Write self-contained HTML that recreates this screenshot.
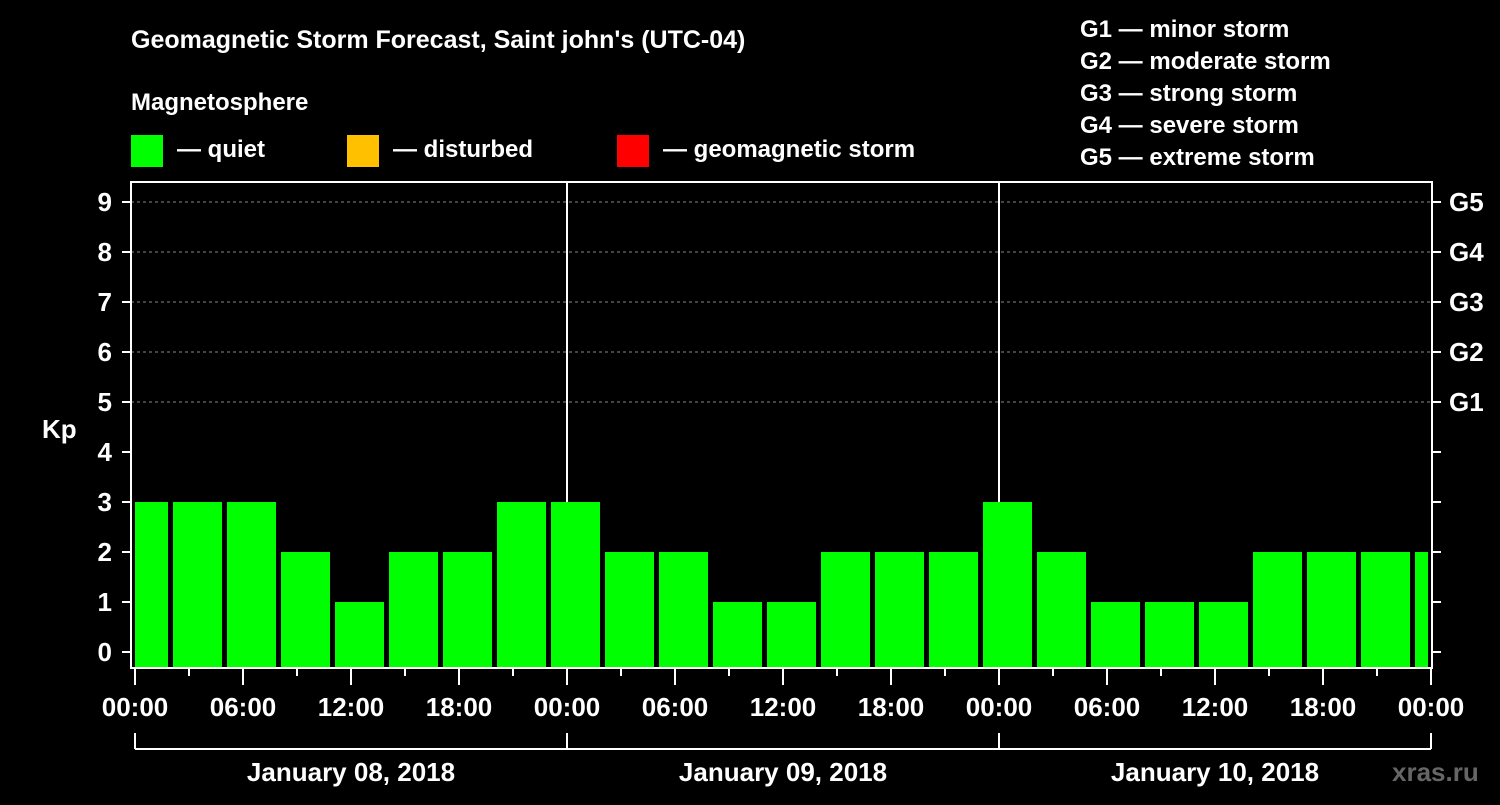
<!DOCTYPE html>
<html><head><meta charset="utf-8"><style>
html,body{margin:0;padding:0;background:#000;}
svg text{font-family:"Liberation Sans",Arial,sans-serif;font-weight:bold;fill:#fff;}
</style></head><body>
<svg id="chart" width="1500" height="800" viewBox="0 0 1500 800" xmlns="http://www.w3.org/2000/svg">
<rect width="1500" height="800" fill="#000"/>
<text x="131" y="48" font-size="25">Geomagnetic Storm Forecast, Saint john's (UTC-04)</text>
<text x="131" y="110" font-size="24">Magnetosphere</text>
<rect x="131" y="135" width="32" height="32" fill="#00ff00"/>
<text x="177" y="157" font-size="24">— quiet</text>
<rect x="347" y="135" width="32" height="32" fill="#ffc000"/>
<text x="393" y="157" font-size="24">— disturbed</text>
<rect x="617" y="135" width="32" height="32" fill="#ff0000"/>
<text x="663" y="157" font-size="24">— geomagnetic storm</text>
<g font-size="24">
<text x="1080" y="37">G1 — minor storm</text>
<text x="1080" y="69">G2 — moderate storm</text>
<text x="1080" y="101">G3 — strong storm</text>
<text x="1080" y="133">G4 — severe storm</text>
<text x="1080" y="165">G5 — extreme storm</text>
</g>
<text x="42" y="438" font-size="26">Kp</text>
<text x="1392" y="781" font-size="26" fill="#555" style="fill:#666">xras.ru</text>
<g id="grid"></g><g id="bars"></g><g id="axes"></g>
</svg>
<script>
const kpValues=[3,3,3,2,1,2,2,3, 3,2,2,1,1,2,2,2, 3,2,1,1,1,2,2,2, 2];
const yTicks=[0,1,2,3,4,5,6,7,8,9];
const gLabels=["G1","G2","G3","G4","G5"];
const gLevels=[5,6,7,8,9];
const hourLabels=["00:00","06:00","12:00","18:00"];
const dayLabels=["January 08, 2018","January 09, 2018","January 10, 2018"];

const NS="http://www.w3.org/2000/svg";
const L=131,R=1432,T=182,B=668,X0=135,PXH=18;
const y=v=>652-v*50;
const x=h=>X0+h*PXH;
function mk(tag,attrs,parent,txt){const e=document.createElementNS(NS,tag);for(const k in attrs)e.setAttribute(k,attrs[k]);if(txt!==undefined)e.textContent=txt;parent.appendChild(e);return e;}
const grid=document.getElementById('grid'),bars=document.getElementById('bars'),axes=document.getElementById('axes');
gLevels.forEach(v=>{const l=mk('line',{x1:L,x2:R,y1:y(v),y2:y(v),stroke:'#888','stroke-dasharray':'3,3','stroke-width':1},grid);

});
kpValues.forEach((v,k)=>{let x1=x(3*k)-16,x2=x(3*k)+33;x1=Math.max(x1,X0);x2=Math.min(x2,R-4);
const r=mk('rect',{x:x1,y:y(v),width:x2-x1,height:667-y(v),fill:v>=5?'#ff0000':(v>=4?'#ffc000':'#00ff00')},bars);

});
for(let d=1;d<dayLabels.length;d++){const l=mk('line',{x1:x(24*d),x2:x(24*d),y1:T,y2:B,stroke:'#fff','stroke-width':2},grid);

}
const fr=mk('rect',{x:L,y:T,width:R-L,height:B-T,fill:'none',stroke:'#fff','stroke-width':2},axes);


yTicks.forEach(v=>{mk('line',{x1:122,x2:L,y1:y(v),y2:y(v),stroke:'#fff','stroke-width':2},axes);
mk('line',{x1:R,x2:R+9,y1:y(v),y2:y(v),stroke:'#fff','stroke-width':2},axes);
const t=mk('text',{x:112,y:y(v)+9,'font-size':26,'text-anchor':'end'},axes,String(v));

});
gLabels.forEach((g,i)=>{const t=mk('text',{x:1449,y:y(gLevels[i])+9,'font-size':26},axes,g);

});
const totalH=24*dayLabels.length;
for(let h=0;h<=totalH;h+=3){const major=h%6===0;mk('line',{x1:x(h),x2:x(h),y1:B,y2:B+(major?17:8),stroke:'#fff','stroke-width':2},axes);
if(major){const t=mk('text',{x:x(h),y:716,'font-size':26,'text-anchor':'middle'},axes,hourLabels[(h/6)%4]);

}}
mk('line',{x1:x(0),x2:x(totalH),y1:749,y2:749,stroke:'#fff','stroke-width':2},axes);
for(let d=0;d<=dayLabels.length;d++)mk('line',{x1:x(24*d),x2:x(24*d),y1:733,y2:749,stroke:'#fff','stroke-width':2},axes);
dayLabels.forEach((s,d)=>{const t=mk('text',{x:x(24*d+12),y:781,'font-size':26,'text-anchor':'middle'},axes,s);

});
</script>
</body></html>
